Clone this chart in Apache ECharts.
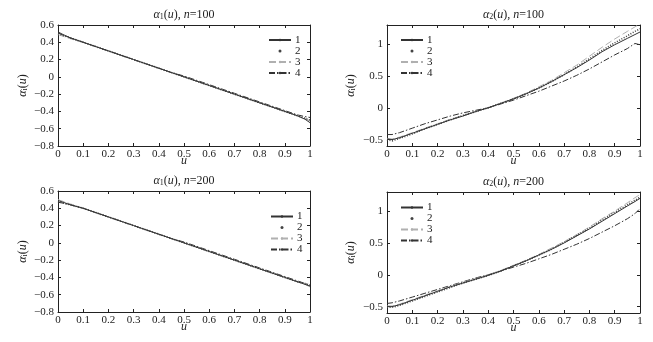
<!DOCTYPE html>
<html><head><meta charset="utf-8">
<script src="https://cdn.jsdelivr.net/npm/echarts@6/dist/echarts.min.js"></script>
<style>html,body{margin:0;padding:0;background:#fff}#c{width:653px;height:342px}</style>
</head><body><div id="c"></div>
<script>
// u grid
const u = [0,0.02,0.05,0.1,0.15,0.2,0.25,0.3,0.35,0.4,0.45,0.5,0.55,0.6,0.65,0.7,0.75,0.8,0.85,0.9,0.95,0.98,1];
const xTickLabels = ['0','0.1','0.2','0.3','0.4','0.5','0.6','0.7','0.8','0.9','1'];
const leftYTickValues = [-0.8,-0.6,-0.4,-0.2,0,0.2,0.4,0.6];
const rightYTickValues = [-0.5,0,0.5,1];
const seriesNames = ['1','2','3','4'];

// alpha1(u), n=100
const a1n100_1 = [0.52,0.49,0.45,0.40,0.35,0.30,0.25,0.20,0.15,0.10,0.05,0.00,-0.05,-0.10,-0.15,-0.20,-0.25,-0.30,-0.35,-0.40,-0.45,-0.49,-0.53];
const a1n100_2 = [0.50,0.48,0.45,0.40,0.35,0.30,0.25,0.20,0.15,0.10,0.05,0.00,-0.05,-0.10,-0.15,-0.20,-0.25,-0.30,-0.35,-0.40,-0.45,-0.48,-0.50];
const a1n100_3 = [0.49,0.47,0.44,0.40,0.35,0.30,0.25,0.20,0.15,0.10,0.05,0.00,-0.05,-0.10,-0.15,-0.20,-0.25,-0.30,-0.35,-0.40,-0.45,-0.48,-0.51];
const a1n100_4 = [0.51,0.48,0.45,0.40,0.35,0.30,0.25,0.20,0.15,0.10,0.05,0.01,-0.04,-0.09,-0.14,-0.19,-0.24,-0.29,-0.34,-0.39,-0.44,-0.46,-0.47];
// alpha2(u), n=100
const a2n100_1 = [-0.49,-0.50,-0.47,-0.40,-0.33,-0.26,-0.19,-0.13,-0.06,0.00,0.07,0.14,0.22,0.31,0.41,0.52,0.63,0.75,0.88,0.99,1.09,1.15,1.19];
const a2n100_2 = [-0.50,-0.52,-0.48,-0.41,-0.33,-0.26,-0.19,-0.12,-0.06,0.00,0.07,0.14,0.22,0.31,0.41,0.52,0.64,0.77,0.90,1.02,1.13,1.20,1.24];
const a2n100_3 = [-0.48,-0.49,-0.46,-0.39,-0.32,-0.25,-0.18,-0.12,-0.06,0.00,0.07,0.15,0.23,0.33,0.43,0.55,0.67,0.81,0.95,1.08,1.20,1.27,1.32];
const a2n100_4 = [-0.42,-0.42,-0.39,-0.32,-0.25,-0.19,-0.13,-0.08,-0.04,0.00,0.06,0.12,0.19,0.26,0.34,0.42,0.51,0.61,0.72,0.83,0.93,1.01,0.99];
// alpha1(u), n=200
const a1n200_1 = [0.49,0.47,0.44,0.40,0.35,0.30,0.25,0.20,0.15,0.10,0.05,0.00,-0.05,-0.10,-0.15,-0.20,-0.25,-0.30,-0.35,-0.40,-0.45,-0.48,-0.50];
const a1n200_2 = [0.48,0.46,0.44,0.40,0.35,0.30,0.25,0.20,0.15,0.10,0.05,0.00,-0.05,-0.10,-0.15,-0.20,-0.25,-0.30,-0.35,-0.40,-0.45,-0.47,-0.49];
const a1n200_3 = [0.50,0.48,0.45,0.40,0.35,0.30,0.25,0.20,0.15,0.10,0.05,0.00,-0.05,-0.10,-0.15,-0.20,-0.25,-0.30,-0.35,-0.40,-0.45,-0.48,-0.51];
const a1n200_4 = [0.47,0.46,0.44,0.40,0.35,0.30,0.25,0.20,0.15,0.10,0.05,0.01,-0.04,-0.09,-0.14,-0.19,-0.24,-0.29,-0.34,-0.39,-0.44,-0.47,-0.49];
// alpha2(u), n=200
const a2n200_1 = [-0.50,-0.50,-0.47,-0.40,-0.33,-0.26,-0.19,-0.13,-0.07,-0.01,0.06,0.14,0.22,0.31,0.40,0.50,0.61,0.72,0.84,0.96,1.08,1.15,1.20];
const a2n200_2 = [-0.51,-0.51,-0.48,-0.41,-0.34,-0.27,-0.20,-0.13,-0.07,-0.01,0.06,0.14,0.22,0.31,0.40,0.51,0.62,0.73,0.86,0.98,1.10,1.17,1.22];
const a2n200_3 = [-0.49,-0.49,-0.46,-0.39,-0.32,-0.25,-0.18,-0.12,-0.06,0.00,0.07,0.15,0.23,0.32,0.42,0.52,0.63,0.75,0.88,1.00,1.13,1.21,1.26];
const a2n200_4 = [-0.45,-0.44,-0.41,-0.35,-0.29,-0.23,-0.17,-0.11,-0.05,0.00,0.06,0.12,0.18,0.25,0.32,0.40,0.48,0.57,0.67,0.77,0.88,0.96,1.04];

const panelData = [
  [a1n100_1,a1n100_2,a1n100_3,a1n100_4],
  [a2n100_1,a2n100_2,a2n100_3,a2n100_4],
  [a1n200_1,a1n200_2,a1n200_3,a1n200_4],
  [a2n200_1,a2n200_2,a2n200_3,a2n200_4]
];
const titles = [['1','100'],['2','100'],['1','200'],['2','200']];

const FONT = '"Liberation Serif","Times New Roman",serif';
const INK = '#222';
const grids = [
  {left:58, top:25, width:252, height:121},
  {left:387, top:25, width:253, height:121},
  {left:58, top:191, width:252, height:121},
  {left:387, top:192, width:253, height:121}
];
const yRanges = [[-0.8,0.6,0.2],[-0.6,1.3,0.1],[-0.8,0.6,0.2],[-0.6,1.3,0.1]];
const legendPos = [
  {left:268, top:34.5, pitch:8.7},
  {left:400, top:34.5, pitch:8.7},
  {left:270, top:211, pitch:6.5},
  {left:400, top:202, pitch:8.7}
];
const seriesStyle = [
  {color:'#333', type:'solid', width:1},
  {color:'#444', type:[1,1.6], width:1.6},
  {color:'#b0b0b0', type:[7,3], width:1},
  {color:'#333', type:[6,2,1.5,2], width:1}
];
const rich = {
  a:{fontFamily:FONT, fontStyle:'italic', fontSize:12, color:INK},
  s:{fontFamily:FONT, fontSize:8, color:INK, verticalAlign:'bottom', lineHeight:8, padding:[6,0,0,0]},
  n:{fontFamily:FONT, fontSize:12, color:INK}
};
function fmt(v){
  const r = Math.round(v*10)/10;
  if (r === 0) return '0';
  let s = Number.isInteger(r) ? String(r) : r.toFixed(1);
  return s.replace('-', '−');
}

const axisLine = {show:true, onZero:false, lineStyle:{color:INK, width:1}};
const labelStyle = {fontFamily:FONT, fontSize:11, color:INK};

const option = {
  backgroundColor:'#fff',
  animation:false,
  grid: grids,
  xAxis: [], yAxis: [], series: [], legend: [], graphic: []
};

grids.forEach((g, i) => {
  const yr = yRanges[i];
  const right = i % 2 === 1;
  const yTicks = right ? rightYTickValues : leftYTickValues;
  const yTick = {show:true, inside:true, length:3, lineStyle:{color:INK}, customValues:yTicks};
  const xTick = {show:true, inside:true, length:3, lineStyle:{color:INK}};
  option.xAxis.push({
    gridIndex:i, type:'value', min:0, max:1, interval:0.1, position:'bottom',
    axisLine, axisTick:xTick, splitLine:{show:false},
    axisLabel:{...labelStyle, margin:3, formatter:(v)=>xTickLabels[Math.round(v*10)]},
    name:'u', nameLocation:'middle', nameGap:9, nameMoveOverlap:false,
    nameTextStyle:{fontFamily:FONT, fontStyle:'italic', fontSize:12, color:INK}
  });
  option.xAxis.push({
    gridIndex:i, type:'value', min:0, max:1, interval:0.1, position:'top',
    axisLine, axisTick:xTick, splitLine:{show:false}, axisLabel:{show:false}
  });
  option.yAxis.push({
    gridIndex:i, type:'value', min:yr[0], max:yr[1], interval:yr[2], position:'left',
    axisLine, axisTick:yTick, splitLine:{show:false},
    axisLabel:{...labelStyle, margin:4, customValues:yTicks, formatter:(v)=>fmt(v)},
    name:'{a|α}{s|i}{n|(}{a|u}{n|)}', nameLocation:'middle', nameGap: right ? 30 : 29, nameMoveOverlap:false,
    nameTextStyle:{rich, fontFamily:FONT, fontSize:12, color:INK}
  });
  option.yAxis.push({
    gridIndex:i, type:'value', min:yr[0], max:yr[1], interval:yr[2], position:'right',
    axisLine, axisTick:yTick, splitLine:{show:false}, axisLabel:{show:false}
  });
  panelData[i].forEach((arr, k) => {
    const st = seriesStyle[k];
    option.series.push({
      type:'line', name:seriesNames[k], xAxisIndex:2*i, yAxisIndex:2*i,
      data:u.map((x, j) => [x, arr[j]]),
      symbol:'none', clip:true, color:st.color,
      lineStyle:{color:st.color, type:st.type, width:st.width},
      z: 3 + (3-k)
    });
  });
  const lp = legendPos[i];
  option.legend.push({
    orient:'vertical', left:lp.left, top:lp.top, padding:0,
    itemWidth:22, itemHeight:3, itemGap:0, selectedMode:false,
    textStyle:{fontFamily:FONT, fontSize:11, color:INK, lineHeight:lp.pitch, padding:[0,0,0,-1]},
    data:[
      {name:'1'},
      {name:'2', icon:'circle', itemStyle:{color:'#444'}},
      {name:'3'},
      {name:'4'}
    ]
  });
  const t = titles[i];
  option.graphic.push({
    type:'text', x: g.left + g.width/2, y: g.top - 10, z:10,
    style:{
      text:'{a|α}{s|' + t[0] + '}{n|(}{a|u}{n|), }{a|n}{n|=' + t[1] + '}',
      rich, align:'center', verticalAlign:'middle', fill:INK
    }
  });
});

const chart = echarts.init(document.getElementById('c'), null, {renderer:'canvas'});
chart.setOption(option);
</script>
</body></html>
